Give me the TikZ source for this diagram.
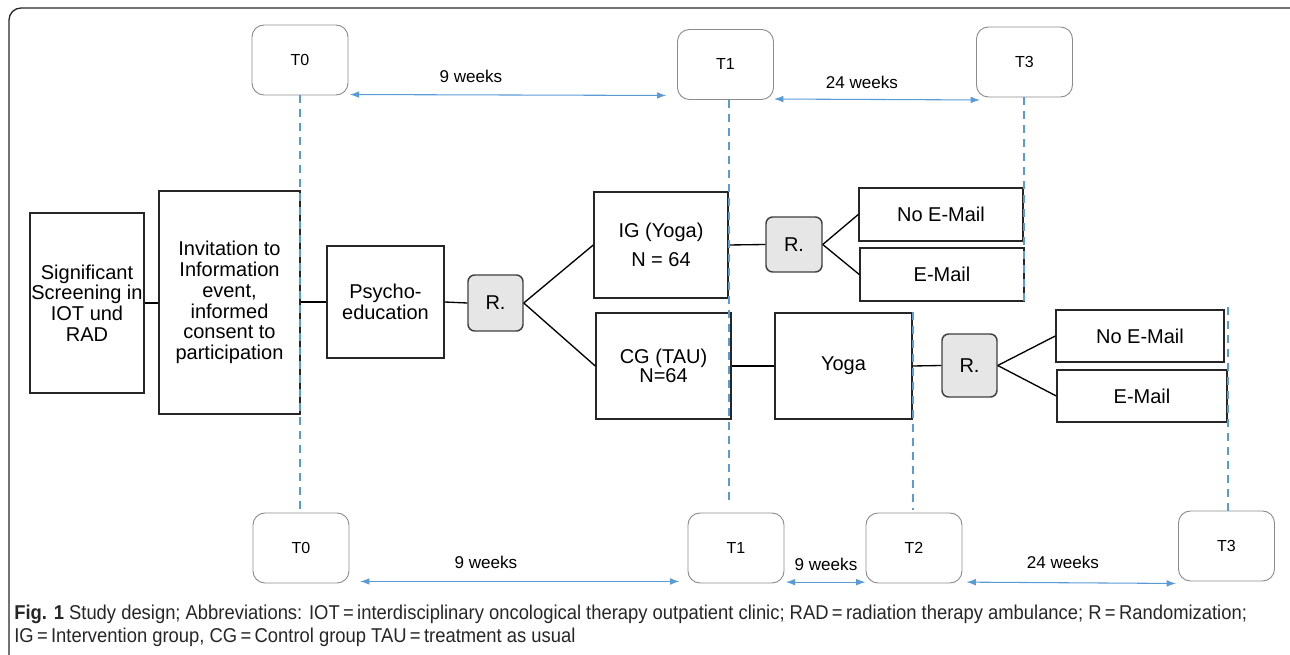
\documentclass[tikz,border=0pt]{standalone}
\usepackage{fontspec}
\setmainfont{Liberation Sans}
\newfontfamily\capfont[FakeStretch=0.92]{Liberation Sans}
\usetikzlibrary{arrows.meta}
\definecolor{tblue}{HTML}{5B9BD5}
\definecolor{rgray}{HTML}{E6E6E6}
\definecolor{tgray}{HTML}{8C8C8C}
\begin{document}
\begin{tikzpicture}[x=0.75pt,y=-0.75pt,
  pw/.style={minimum width=#1*0.75pt},
  ph/.style={minimum height=#1*0.75pt},
  mainbox/.style={draw=black!85, line width=1.1pt, fill=white, inner sep=0pt, align=center, font=\fontsize{15}{15.6}\selectfont},
  rbox/.style={mainbox, fill=rgray, draw=black!75, rounded corners=5pt},
  tbox/.style={draw=tgray, line width=0.7pt, rounded corners=9pt, fill=white, inner sep=0pt, pw=96, ph=70, font=\fontsize{12}{14}\selectfont},
  conn/.style={black, line width=1pt},
  tline/.style={tblue, line width=1.4pt, dash pattern=on 6pt off 4.5pt},
  warr/.style={tblue, line width=0.8pt, {Latex[length=7pt,width=5pt]}-{Latex[length=7pt,width=5pt]}},
  wlab/.style={font=\fontsize{12.8}{15}\selectfont, inner sep=0pt}
]
\useasboundingbox (0,0) rectangle (1290,655);
% frame
\draw[black!85, line width=1pt, rounded corners=9pt] (9,655) |- (1290,8);
% T boxes
\node[tbox] (t0a) at (300,60) {T0};
\node[tbox] (t1a) at (725.5,64.5) {T1};
\node[tbox] (t3a) at (1024.5,62) {T3};
\node[tbox] (t0b) at (301,548) {T0};
\node[tbox] (t1b) at (736,548) {T1};
\node[tbox] (t2b) at (914,548) {T2};
\node[tbox] (t3b) at (1226.5,546) {T3};
% main boxes
\node[mainbox, pw=114, ph=180] (scr) at (87,303) {Significant\\Screening in\\IOT und\\RAD};
\node[mainbox, pw=141, ph=223] (inv) at (229.5,302.5) {Invitation to\\Information\\event,\\informed\\consent to\\participation};
\node[mainbox, pw=117, ph=112] (psy) at (385.5,302) {Psycho-\\education};
\node[rbox, pw=55, ph=56] (r1) at (495.5,303) {R.};
\node[mainbox, pw=134, ph=106, font=\fontsize{15}{21.5}\selectfont] (ig) at (661,245) {IG (Yoga)\\N = 64};
\node[mainbox, pw=135, ph=106, font=\fontsize{15}{14}\selectfont] (cg) at (663.5,366) {CG (TAU)\\N=64};
\node[rbox, pw=56, ph=55] (r2) at (794,244.5) {R.};
\node[mainbox, pw=164, ph=53] (ne1) at (941,214.5) {No E-Mail};
\node[mainbox, pw=164, ph=53] (em1) at (942,274.5) {E-Mail};
\node[mainbox, pw=137, ph=106] (yoga) at (843.5,366) {Yoga};
\node[rbox, pw=55, ph=63] (r3) at (969.5,365.5) {R.};
\node[mainbox, pw=168, ph=52] (ne2) at (1140,336) {No E-Mail};
\node[mainbox, pw=170, ph=52] (em2) at (1142,396) {E-Mail};
% connectors
\draw[conn] (scr.east) -- (scr.east -| inv.west);
\draw[conn] (inv.east |- psy.west) -- (psy.west);
\draw[conn] (psy.east) -- (r1.west);
\draw[conn] (r1.east) -- (ig.west);
\draw[conn] (r1.east) -- (cg.west);
\draw[conn] (ig.east) -- (r2.west);
\draw[conn] (r2.east) -- (ne1.west);
\draw[conn] (r2.east) -- (em1.west);
\draw[conn] (cg.east) -- (yoga.west);
\draw[conn] (yoga.east) -- (r3.west);
\draw[conn] (r3.east) -- (ne2.west);
\draw[conn] (r3.east) -- (em2.west);
% dashed timelines
\draw[tline] (t0a.south) -- (t0a.south |- t0b.north);
\draw[tline] (ig.east |- t1a.south) -- ([yshift=6pt]ig.east |- t1b.north);
\draw[tline] (ne1.east |- t3a.south) -- (ne1.east |- em1.south);
\draw[tline] (yoga.north east) -- ([yshift=2pt]yoga.east |- t2b.north);
\draw[tline] ([yshift=1.5pt]em2.east |- ne2.north) -- (em2.east |- t3b.north);
% week arrows
\draw[warr] ([xshift=1pt,yshift=0.7pt]t0a.south east) -- ([xshift=-8pt]t1a.west |- t0a.south);
\node[wlab] (w1) at (471,76) {9 weeks};
\draw[warr] ([yshift=0.7pt]t1a.south east) -- ([xshift=3pt]t3a.west |- t1a.south);
\node[wlab] (w2) at (862,82) {24 weeks};
\draw[warr] ([xshift=8pt,yshift=1.5pt]t0b.south east) -- ([xshift=-6pt,yshift=1.5pt]t1b.south west);
\node[wlab] (w3) at (486,562) {9 weeks};
\draw[warr] ([xshift=1pt,yshift=1pt]t1b.south east) -- ([yshift=1pt]t2b.south west);
\node[wlab] (w4) at (826,564) {9 weeks};
\draw[warr] ([xshift=3pt,yshift=1pt]t2b.south east) -- ([xshift=-1.5pt]t3b.south west |- t2b.south);
\node[wlab] (w5) at (1063,562) {24 weeks};
% caption
\node[anchor=base west, inner sep=0pt, text=black!85, font=\capfont\fontsize{15}{17}\selectfont] (cap1) at (14,620) {\textbf{Fig. 1} Study design; Abbreviations: IOT\,=\,interdisciplinary oncological therapy outpatient clinic; RAD\,=\,radiation therapy ambulance; R\,=\,Randomization;};
\node[anchor=base west, inner sep=0pt, text=black!85, font=\capfont\fontsize{15}{17}\selectfont] (cap2) at (14,643) {IG\,=\,Intervention group, CG\,=\,Control group TAU\,=\,treatment as usual};
\end{tikzpicture}
\end{document}
